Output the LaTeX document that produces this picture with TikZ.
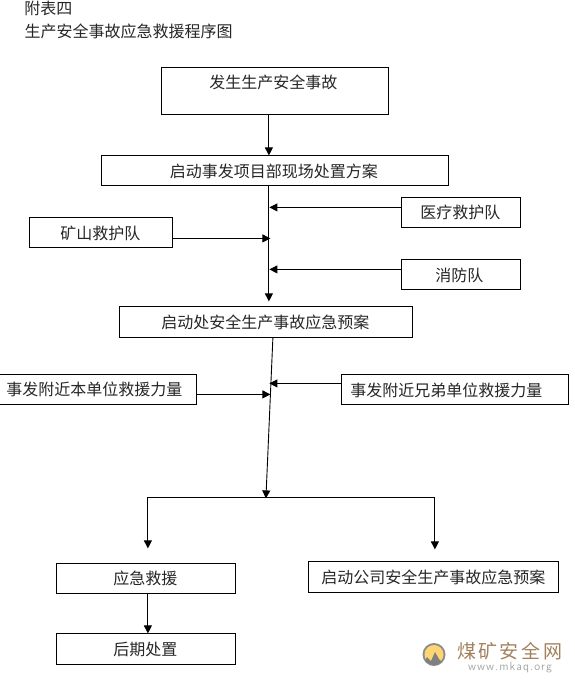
\documentclass[tikz,border=0pt]{standalone}
\usepackage{fontspec}
\newfontfamily\cjk{Noto Sans CJK SC}
\usetikzlibrary{arrows.meta}
\tikzset{
  bx/.style={draw=black,line width=1pt,rectangle,inner sep=0pt,outer sep=0pt},
  lbl/.style={font=\cjk\fontsize{16}{17}\selectfont,inner sep=0pt,text=black!85},
  arr/.style={draw=black,line width=0.9pt,-{Triangle[length=8pt,width=8pt]}},
  ln/.style={draw=black,line width=0.9pt}
}
\begin{document}
\begin{tikzpicture}[x=1pt,y=-1pt]
\useasboundingbox (0,0) rectangle (575,683);
\begin{scope}
\clip (0,0) rectangle (575,683);
\begin{scope}[shift={(-0.6,-0.6)}]
\node[lbl] (fubiao) at (49,9) {附表四};
\node[lbl,anchor=west] (title) at (25,32) {生产安全事故应急救援程序图};

\node[bx,minimum width=227pt,minimum height=47pt] (a) at (275.5,91.5) {};
\node[lbl] (at) at (274,83) {发生生产安全事故};
\node[bx,minimum width=347pt,minimum height=30pt] (b) at (275.5,171) {};
\node[lbl] (bt) at (274.5,172) {启动事发项目部现场处置方案};
\node[bx,minimum width=119pt,minimum height=30pt] (med) at (461.5,213) {};
\node[lbl] (medt) at (461,213) {医疗救护队};
\node[bx,minimum width=143pt,minimum height=30pt] (mine) at (101.5,233) {};
\node[lbl] (minet) at (101,234) {矿山救护队};
\node[bx,minimum width=119pt,minimum height=30pt] (fire) at (461.5,275) {};
\node[lbl] (firet) at (460,276) {消防队};
\node[bx,minimum width=293pt,minimum height=31pt] (c) at (266.5,322.5) {};
\node[lbl] (ct) at (266,323) {启动处安全生产事故应急预案};
\node[bx,minimum width=200pt,minimum height=30pt] (own) at (97,390) {};
\node[lbl] (ownt) at (95,390) {事发附近本单位救援力量};
\node[bx,minimum width=227pt,minimum height=30pt] (bro) at (455.5,390) {};
\node[lbl] (brot) at (447,391) {事发附近兄弟单位救援力量};
\node[bx,minimum width=179pt,minimum height=30pt] (res) at (146.5,579) {};
\node[lbl] (rest) at (146,579) {应急救援};
\node[bx,minimum width=250pt,minimum height=31pt] (co) at (434,577.5) {};
\node[lbl] (cot) at (434,578) {启动公司安全生产事故应急预案};
\node[bx,minimum width=179pt,minimum height=31pt] (post) at (146.5,649.5) {};
\node[lbl] (postt) at (146,650) {后期处置};

\coordinate (x1) at (269.5,0);
\coordinate (x2) at (148.5,0);
\coordinate (x3) at (273.5,0);
\coordinate (p1) at (270,208);
\coordinate (p2) at (271,239);
\coordinate (p3) at (270,270);
\coordinate (p4) at (270,384);
\coordinate (p5) at (271,395);
\coordinate (p6) at (269.5,302);
\coordinate (split) at (266.5,499);
\coordinate (sl) at (148.5,498);
\coordinate (sr) at (435.5,498);
\coordinate (slb) at (148.5,549);
\coordinate (srb) at (435.5,550);

\draw[arr] (a.south -| x1) -- (b.north -| x1);
\draw[arr] (b.south -| x1) -- (p6);
\draw[arr] (med.west |- p1) -- (p1);
\draw[arr] (mine.east |- p2) -- (p2);
\draw[arr] (fire.west |- p3) -- (p3);
\draw[arr] (c.south -| x3) -- (split);
\draw[arr] (bro.west |- p4) -- (p4);
\draw[arr] (own.east |- p5) -- (p5);
\draw[ln] (sl) -- (sr);
\draw[arr] (sl) -- (slb);
\draw[arr] (sr) -- (srb);
\draw[arr] (res.south -| x2) -- (post.north -| x2);
\end{scope}

% watermark
\fill[black!45] (434,654.5) circle (11.5);
\fill[orange!60!yellow!55] (434,654.5) circle (9.5);
\begin{scope}
\clip (434,654.5) circle (10.5);
\fill[black!50] (422,666) -- (427,657) -- (431,661) -- (435,652) -- (439,659) -- (446,666) -- cycle;
\end{scope}
\node[font=\cjk\fontsize{19}{20}\selectfont,inner sep=0pt,text=brown!55!gray,anchor=west] (wm1) at (457,651) {煤\kern2pt 矿\kern2pt 安\kern3pt 全\kern3pt 网};
\node[font=\sffamily\fontsize{12}{13}\selectfont,inner sep=0pt,text=black!35,anchor=west] (wm2) at (468,668) {w\kern1pt w\kern1pt w\kern1pt .\kern1pt m\kern1pt k\kern1pt a\kern1pt q\kern1pt .\kern1pt o\kern1pt r\kern1pt g};
\end{scope}
\end{tikzpicture}
\end{document}
